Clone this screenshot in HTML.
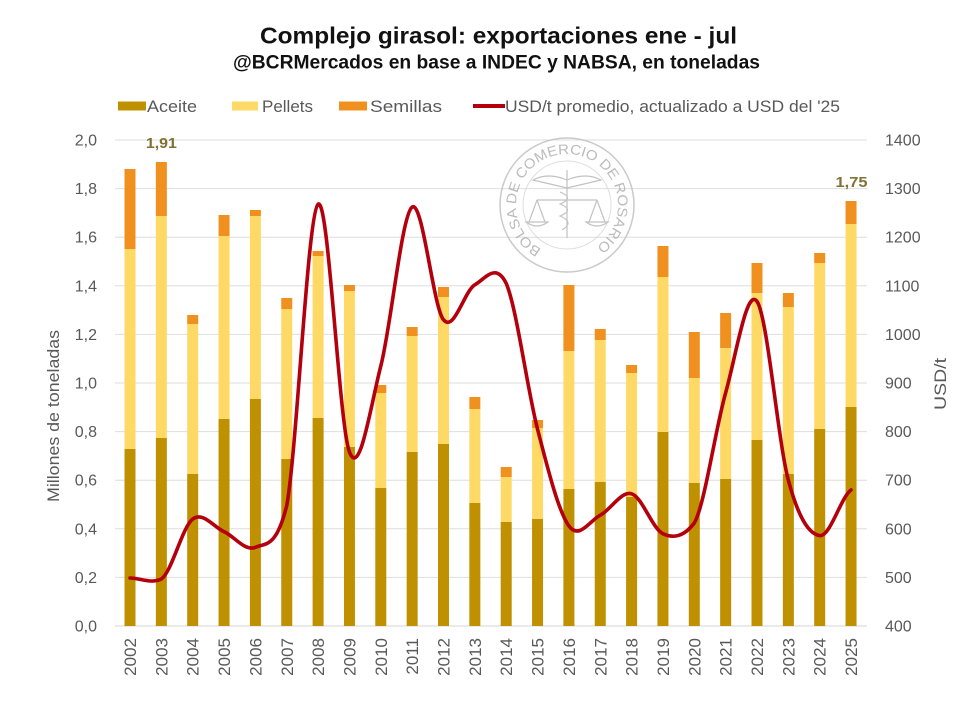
<!DOCTYPE html>
<html>
<head>
<meta charset="utf-8">
<style>
html,body{margin:0;padding:0;background:#fff;}
svg{display:block;}
text{font-family:"Liberation Sans",sans-serif;}
</style>
</head>
<body>
<svg width="960" height="701" viewBox="0 0 960 701" xmlns="http://www.w3.org/2000/svg">
<rect width="960" height="701" fill="#fff"/>
<!-- Titles -->
<text x="260" y="43.5" font-size="23" font-weight="bold" fill="#111" textLength="477" lengthAdjust="spacingAndGlyphs">Complejo girasol: exportaciones ene - jul</text>
<text x="233" y="68.5" font-size="19" font-weight="bold" fill="#111" textLength="527" lengthAdjust="spacingAndGlyphs">@BCRMercados en base a INDEC y NABSA, en toneladas</text>

<!-- Legend -->
<rect x="118" y="101.5" width="28" height="9" fill="#bf9000"/>
<text x="147" y="112" font-size="17" fill="#595959" textLength="50" lengthAdjust="spacingAndGlyphs">Aceite</text>
<rect x="232" y="101.5" width="26" height="9" fill="#ffd966"/>
<text x="262" y="112" font-size="17" fill="#595959" textLength="51" lengthAdjust="spacingAndGlyphs">Pellets</text>
<rect x="339" y="101.5" width="28" height="9" fill="#f0901e"/>
<text x="370" y="112" font-size="17" fill="#595959" textLength="72" lengthAdjust="spacingAndGlyphs">Semillas</text>
<line x1="473" y1="106" x2="505" y2="106" stroke="#b3000c" stroke-width="4"/>
<text x="505" y="112" font-size="17" fill="#595959" textLength="335" lengthAdjust="spacingAndGlyphs">USD/t promedio, actualizado a USD del '25</text>

<!-- Gridlines -->
<g stroke="#dedede" stroke-width="1">
<line x1="115" y1="140" x2="867" y2="140"/>
<line x1="115" y1="188.6" x2="867" y2="188.6"/>
<line x1="115" y1="237.2" x2="867" y2="237.2"/>
<line x1="115" y1="285.8" x2="867" y2="285.8"/>
<line x1="115" y1="334.4" x2="867" y2="334.4"/>
<line x1="115" y1="383" x2="867" y2="383"/>
<line x1="115" y1="431.6" x2="867" y2="431.6"/>
<line x1="115" y1="480.2" x2="867" y2="480.2"/>
<line x1="115" y1="528.8" x2="867" y2="528.8"/>
<line x1="115" y1="577.4" x2="867" y2="577.4"/>
<line x1="115" y1="626" x2="867" y2="626" stroke="#d4d4d4"/>
</g>

<!-- Watermark -->
<g opacity="0.8">
<circle cx="567" cy="205" r="67" fill="none" stroke="#bdbdbd" stroke-width="1.5"/>
<circle cx="567" cy="205" r="44" fill="none" stroke="#d6d6d6" stroke-width="1"/>
<path id="wm" d="M 541.5 249.2 A 51 51 0 1 1 592.5 249.2" fill="none"/>
<text font-size="14" fill="#ababab"><textPath href="#wm" textLength="262" lengthAdjust="spacingAndGlyphs">BOLSA DE COMERCIO DE ROSARIO</textPath></text>
<g stroke="#b4b4b4" stroke-width="1.2" fill="none">
<line x1="567" y1="170" x2="567" y2="238"/>
<path d="M567 180 Q 548 172 533 180 Q 550 184 567 188"/>
<path d="M567 180 Q 586 172 601 180 Q 584 184 567 188"/>
<path d="M560 192 Q 575 198 560 204 Q 575 210 560 216 Q 575 222 562 230"/>
<line x1="537" y1="200" x2="597" y2="200"/>
<path d="M537 200 L 529 222 M537 200 L 545 222"/>
<path d="M526 222 Q 537 230 548 222 Z"/>
<path d="M597 200 L 589 222 M597 200 L 605 222"/>
<path d="M586 222 Q 597 230 608 222 Z"/>
</g>
</g>

<!-- Bars -->
<g>
<g fill="#bf9000">
<rect x="124.5" y="449" width="11" height="177"/>
<rect x="155.85" y="438" width="11" height="188"/>
<rect x="187.2" y="474" width="11" height="152"/>
<rect x="218.55" y="419" width="11" height="207"/>
<rect x="249.9" y="399" width="11" height="227"/>
<rect x="281.25" y="459" width="11" height="167"/>
<rect x="312.6" y="418" width="11" height="208"/>
<rect x="343.95" y="447" width="11" height="179"/>
<rect x="375.3" y="488" width="11" height="138"/>
<rect x="406.65" y="452" width="11" height="174"/>
<rect x="438" y="444" width="11" height="182"/>
<rect x="469.35" y="503" width="11" height="123"/>
<rect x="500.7" y="522" width="11" height="104"/>
<rect x="532.05" y="519" width="11" height="107"/>
<rect x="563.4" y="489" width="11" height="137"/>
<rect x="594.75" y="482" width="11" height="144"/>
<rect x="626.1" y="497" width="11" height="129"/>
<rect x="657.45" y="432" width="11" height="194"/>
<rect x="688.8" y="483" width="11" height="143"/>
<rect x="720.15" y="479" width="11" height="147"/>
<rect x="751.5" y="440" width="11" height="186"/>
<rect x="782.85" y="474" width="11" height="152"/>
<rect x="814.2" y="429" width="11" height="197"/>
<rect x="845.55" y="407" width="11" height="219"/>
</g>
<g fill="#ffd966">
<rect x="124.5" y="249" width="11" height="200"/>
<rect x="155.85" y="216" width="11" height="222"/>
<rect x="187.2" y="324" width="11" height="150"/>
<rect x="218.55" y="236" width="11" height="183"/>
<rect x="249.9" y="216" width="11" height="183"/>
<rect x="281.25" y="309" width="11" height="150"/>
<rect x="312.6" y="256" width="11" height="162"/>
<rect x="343.95" y="291" width="11" height="156"/>
<rect x="375.3" y="393" width="11" height="95"/>
<rect x="406.65" y="336" width="11" height="116"/>
<rect x="438" y="297" width="11" height="147"/>
<rect x="469.35" y="409" width="11" height="94"/>
<rect x="500.7" y="477" width="11" height="45"/>
<rect x="532.05" y="428" width="11" height="91"/>
<rect x="563.4" y="351" width="11" height="138"/>
<rect x="594.75" y="340" width="11" height="142"/>
<rect x="626.1" y="373" width="11" height="124"/>
<rect x="657.45" y="277" width="11" height="155"/>
<rect x="688.8" y="378" width="11" height="105"/>
<rect x="720.15" y="348" width="11" height="131"/>
<rect x="751.5" y="293" width="11" height="147"/>
<rect x="782.85" y="307" width="11" height="167"/>
<rect x="814.2" y="263" width="11" height="166"/>
<rect x="845.55" y="224" width="11" height="183"/>
</g>
<g fill="#f0901e">
<rect x="124.5" y="169" width="11" height="80"/>
<rect x="155.85" y="162" width="11" height="54"/>
<rect x="187.2" y="315" width="11" height="9"/>
<rect x="218.55" y="215" width="11" height="21"/>
<rect x="249.9" y="210" width="11" height="6"/>
<rect x="281.25" y="298" width="11" height="11"/>
<rect x="312.6" y="251" width="11" height="5"/>
<rect x="343.95" y="285" width="11" height="6"/>
<rect x="375.3" y="385" width="11" height="8"/>
<rect x="406.65" y="327" width="11" height="9"/>
<rect x="438" y="287" width="11" height="10"/>
<rect x="469.35" y="397" width="11" height="12"/>
<rect x="500.7" y="467" width="11" height="10"/>
<rect x="532.05" y="420" width="11" height="8"/>
<rect x="563.4" y="285" width="11" height="66"/>
<rect x="594.75" y="329" width="11" height="11"/>
<rect x="626.1" y="365" width="11" height="8"/>
<rect x="657.45" y="246" width="11" height="31"/>
<rect x="688.8" y="332" width="11" height="46"/>
<rect x="720.15" y="313" width="11" height="35"/>
<rect x="751.5" y="263" width="11" height="30"/>
<rect x="782.85" y="293" width="11" height="14"/>
<rect x="814.2" y="253" width="11" height="10"/>
<rect x="845.55" y="201" width="11" height="23"/>
</g>
</g>

<!-- Line -->
<path d="M130 578 C 140.45 578.17, 150.9 584, 161.35 579
C 171.8 572, 182.25 526.98, 192.7 519.1
C 203.15 511.22, 213.6 527.0, 224.05 531.7
C 234.5 536.4, 244.95 551.67, 255.4 547.3
C 265.85 542.93, 276.3 548, 286.75 505.5
C 297.2 448.32, 307.65 213.12, 318.1 204.2
C 328.55 195.28, 339.0 425.03, 349.45 452.0
C 359.9 478.97, 370.35 406.82, 380.8 366.0
C 391.25 325.18, 401.7 214.8, 412.15 207.1
C 422.6 199.4, 433.05 306.85, 443.5 319.8
C 453.95 332.75, 464.4 290.87, 474.85 284.8
C 485.3 278.73, 495.75 262, 506.2 283.4
C 516.65 307.47, 527.1 388.78, 537.55 429.2
C 548.0 469.62, 558.45 511.57, 568.9 525.9
C 579.35 540.23, 589.8 520.55, 600.25 515.2
C 610.7 509.85, 621.15 490.72, 631.6 493.8
C 642.05 496.88, 652.5 528.83, 662.95 533.7
C 673.4 538.57, 683.75 537, 694.3 523.0
C 704.75 505, 715.2 429.63, 725.65 392.7
C 736.1 355.77, 746.55 286.82, 757 301.4
C 767.45 315.98, 777.9 441.17, 788.35 480.2
C 798.8 519.23, 809.25 533.98, 819.7 535.6
C 830.15 537.22, 840.6 497.52, 851.05 489.9" fill="none" stroke="#b3000c" stroke-width="3.6" stroke-linejoin="round" stroke-linecap="round"/>

<!-- Data labels -->
<text x="161.35" y="148" font-size="15" font-weight="bold" fill="#7f7233" text-anchor="middle" textLength="31" lengthAdjust="spacingAndGlyphs">1,91</text>
<text x="851.5" y="187" font-size="15" font-weight="bold" fill="#7f7233" text-anchor="middle" textLength="32" lengthAdjust="spacingAndGlyphs">1,75</text>

<!-- Left axis ticks -->
<g font-size="16" fill="#595959" text-anchor="end">
<text x="97" y="145.5">2,0</text>
<text x="97" y="194.1">1,8</text>
<text x="97" y="242.7">1,6</text>
<text x="97" y="291.3">1,4</text>
<text x="97" y="339.9">1,2</text>
<text x="97" y="388.5">1,0</text>
<text x="97" y="437.1">0,8</text>
<text x="97" y="485.7">0,6</text>
<text x="97" y="534.3">0,4</text>
<text x="97" y="582.9">0,2</text>
<text x="97" y="631.5">0,0</text>
</g>
<!-- Right axis ticks -->
<g font-size="16" fill="#595959" text-anchor="start">
<text x="885" y="145.5">1400</text>
<text x="885" y="194.1">1300</text>
<text x="885" y="242.7">1200</text>
<text x="885" y="291.3">1100</text>
<text x="885" y="339.9">1000</text>
<text x="885" y="388.5">900</text>
<text x="885" y="437.1">800</text>
<text x="885" y="485.7">700</text>
<text x="885" y="534.3">600</text>
<text x="885" y="582.9">500</text>
<text x="885" y="631.5">400</text>
</g>

<!-- Axis titles -->
<text transform="translate(59,416) rotate(-90)" font-size="17" fill="#595959" text-anchor="middle" textLength="172" lengthAdjust="spacingAndGlyphs">Millones de toneladas</text>
<text transform="translate(946,384) rotate(-90)" font-size="17" fill="#595959" text-anchor="middle" textLength="52" lengthAdjust="spacingAndGlyphs">USD/t</text>

<!-- X labels -->
<g font-size="17" fill="#595959" text-anchor="end">
<text transform="translate(136,638) rotate(-90)">2002</text>
<text transform="translate(167.35,638) rotate(-90)">2003</text>
<text transform="translate(198.7,638) rotate(-90)">2004</text>
<text transform="translate(230.05,638) rotate(-90)">2005</text>
<text transform="translate(261.4,638) rotate(-90)">2006</text>
<text transform="translate(292.75,638) rotate(-90)">2007</text>
<text transform="translate(324.1,638) rotate(-90)">2008</text>
<text transform="translate(355.45,638) rotate(-90)">2009</text>
<text transform="translate(386.8,638) rotate(-90)">2010</text>
<text transform="translate(418.15,638) rotate(-90)">2011</text>
<text transform="translate(449.5,638) rotate(-90)">2012</text>
<text transform="translate(480.85,638) rotate(-90)">2013</text>
<text transform="translate(512.2,638) rotate(-90)">2014</text>
<text transform="translate(543.55,638) rotate(-90)">2015</text>
<text transform="translate(574.9,638) rotate(-90)">2016</text>
<text transform="translate(606.25,638) rotate(-90)">2017</text>
<text transform="translate(637.6,638) rotate(-90)">2018</text>
<text transform="translate(668.95,638) rotate(-90)">2019</text>
<text transform="translate(700.3,638) rotate(-90)">2020</text>
<text transform="translate(731.65,638) rotate(-90)">2021</text>
<text transform="translate(763,638) rotate(-90)">2022</text>
<text transform="translate(794.35,638) rotate(-90)">2023</text>
<text transform="translate(825.7,638) rotate(-90)">2024</text>
<text transform="translate(857.05,638) rotate(-90)">2025</text>
</g>
</svg>
</body>
</html>
